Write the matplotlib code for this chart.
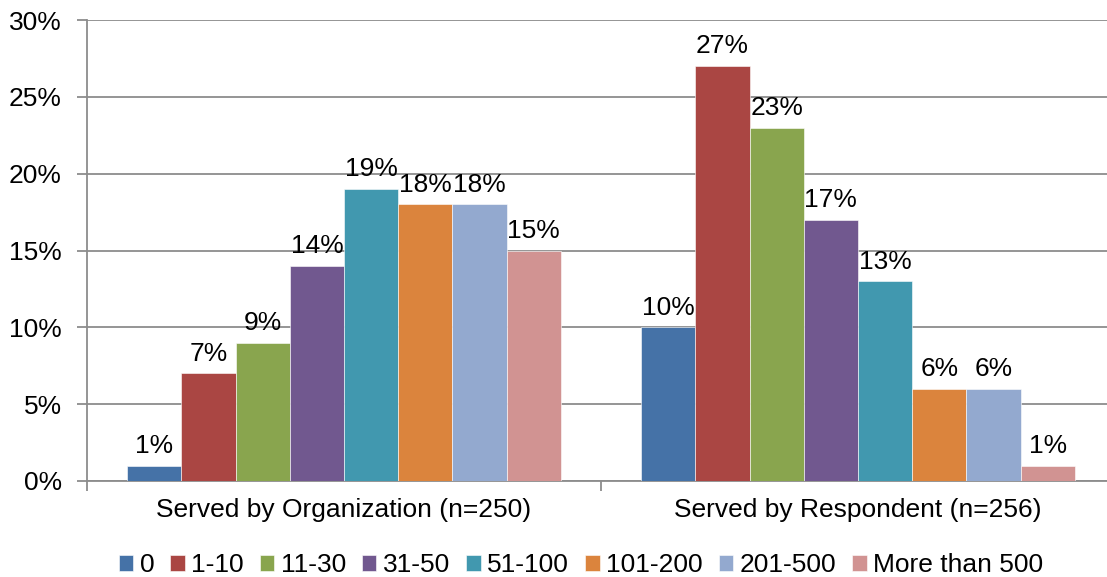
import matplotlib
matplotlib.use("Agg")
import matplotlib.pyplot as plt
import numpy as np
from matplotlib.ticker import FuncFormatter

plt.rcParams['font.family'] = ['Liberation Sans', 'DejaVu Sans']

groups = ["Served by Organization (n=250)", "Served by Respondent (n=256)"]
series = ["0", "1-10", "11-30", "31-50", "51-100", "101-200", "201-500", "More than 500"]
values = {
    "0": [1, 10],
    "1-10": [7, 27],
    "11-30": [9, 23],
    "31-50": [14, 17],
    "51-100": [19, 13],
    "101-200": [18, 6],
    "201-500": [18, 6],
    "More than 500": [15, 1],
}
colors = ["#4572A7", "#AA4643", "#89A54E", "#71588F", "#4198AF", "#DB843D", "#93A9CF", "#D19392"]

FS = 19
W, H = 1107, 577
fig = plt.figure(figsize=(W / 100, H / 100), dpi=100)
ax = fig.add_axes([87 / W, 1 - 481 / H, 1028 / W, 461 / H])

bw = 0.1055
x = np.arange(len(groups))
n = len(series)
for i, (s, c) in enumerate(zip(series, colors)):
    pos = x + (i - (n - 1) / 2) * bw
    vals = np.array(values[s]) / 100
    ax.bar(pos, vals, width=bw, color=c, label=s, zorder=3, edgecolor='white', linewidth=0.4)
    for p, v in zip(pos, vals):
        ax.annotate(f"{round(v*100)}%", (p, v), xytext=(0, 5.5), textcoords='offset points',
                    ha='center', va='bottom', fontsize=FS, color='#000000', zorder=4)

ax.set_xlim(-0.5, 1.5)
ax.set_ylim(0, 0.30)
ax.set_yticks(np.arange(0, 0.301, 0.05))
ax.yaxis.set_major_formatter(FuncFormatter(lambda v, _: f"{round(v*100)}%"))
ax.yaxis.grid(True, color='#8c8c8c', linewidth=1.3, zorder=0)
ax.set_axisbelow(True)

ax.set_xticks([-0.5, 0.5, 1.5])
ax.set_xticklabels([])
ax.set_xticks(x, minor=True)
ax.set_xticklabels(groups, minor=True, fontsize=FS)
ax.tick_params(axis='x', which='minor', length=0, pad=12)
ax.tick_params(axis='x', which='major', length=7, width=1.3, color='#8c8c8c', direction='out')
ax.tick_params(axis='y', length=7, width=1.3, color='#8c8c8c', labelsize=FS, pad=11)

for side in ['top', 'right']:
    ax.spines[side].set_visible(False)
for side in ['left', 'bottom']:
    ax.spines[side].set_color('#8c8c8c')
    ax.spines[side].set_linewidth(1.3)

leg = fig.legend(loc='center', bbox_to_anchor=(581 / W, 1 - 565 / H), ncol=8, frameon=False,
                 fontsize=FS, handlelength=0.55, handleheight=0.55, handletextpad=0.25,
                 columnspacing=0.6)

fig.savefig("out.png", dpi=100)
